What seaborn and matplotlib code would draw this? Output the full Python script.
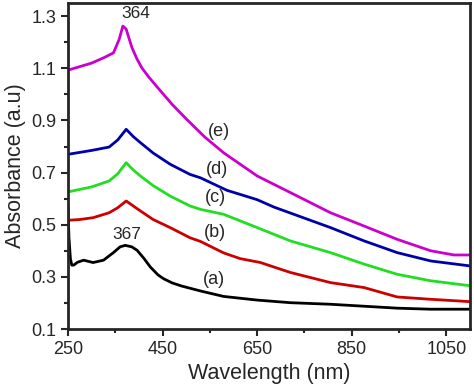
import numpy as np
import pandas as pd
import seaborn as sns
import matplotlib.pyplot as plt

# dados
wl_a = [250, 252, 255, 258, 262, 270, 283, 303, 325, 346, 360, 371, 385, 396, 410, 424, 440, 452, 470, 490, 530, 579, 650, 720, 805, 880, 946, 1017, 1100]
abs_a = [0.57, 0.45, 0.37, 0.345, 0.345, 0.356, 0.364, 0.355, 0.364, 0.393, 0.415, 0.421, 0.415, 0.402, 0.372, 0.338, 0.308, 0.293, 0.277, 0.265, 0.246, 0.225, 0.211, 0.201, 0.195, 0.187, 0.180, 0.176, 0.176]

wl_b = [250, 275, 303, 337, 355, 373, 388, 403, 430, 466, 508, 530, 579, 614, 657, 690, 720, 805, 876, 946, 1017, 1100]
abs_b = [0.517, 0.520, 0.527, 0.546, 0.565, 0.591, 0.572, 0.553, 0.520, 0.489, 0.450, 0.436, 0.392, 0.370, 0.355, 0.335, 0.317, 0.278, 0.259, 0.223, 0.214, 0.205]

wl_c = [250, 300, 337, 355, 373, 388, 403, 430, 466, 508, 530, 579, 650, 720, 805, 876, 946, 1017, 1100]
abs_c = [0.626, 0.645, 0.668, 0.695, 0.738, 0.710, 0.687, 0.650, 0.610, 0.572, 0.559, 0.540, 0.489, 0.438, 0.393, 0.349, 0.310, 0.285, 0.266]

wl_d = [250, 300, 337, 355, 373, 388, 403, 430, 466, 508, 530, 586, 650, 685, 805, 876, 946, 1017, 1100]
abs_d = [0.770, 0.785, 0.798, 0.825, 0.866, 0.838, 0.815, 0.775, 0.732, 0.693, 0.680, 0.632, 0.596, 0.568, 0.489, 0.438, 0.393, 0.361, 0.342]

wl_e = [250, 300, 325, 346, 358, 366, 373, 385, 396, 406, 420, 440, 470, 501, 540, 579, 650, 748, 805, 876, 946, 1017, 1066, 1100]
abs_e = [1.093, 1.120, 1.140, 1.159, 1.210, 1.262, 1.250, 1.180, 1.135, 1.102, 1.068, 1.025, 0.962, 0.904, 0.835, 0.776, 0.687, 0.598, 0.546, 0.495, 0.444, 0.400, 0.384, 0.384]

amostras = ['(a)', '(b)', '(c)', '(d)', '(e)']
cores = ['#000000', '#cc0000', '#22dd22', '#0000aa', '#cc00cc']

# posicoes dos rotulos (a)...(e)
rot_x = [558, 561, 561, 565, 569]
rot_y = [0.291, 0.470, 0.604, 0.713, 0.859]

# monta a tabela longa
df = pd.concat([
    pd.DataFrame({'wl': w, 'abs': a, 'amostra': n})
    for w, a, n in zip([wl_a, wl_b, wl_c, wl_d, wl_e],
                       [abs_a, abs_b, abs_c, abs_d, abs_e], amostras)
])

sns.set_style('ticks')
plt.rcParams['font.family'] = ['Liberation Sans', 'DejaVu Sans']

fig, ax = plt.subplots(figsize=(4.74, 3.88), dpi=100)
fig.subplots_adjust(left=0.1435, right=0.9916, top=0.992, bottom=0.152)

sns.lineplot(data=df, x='wl', y='abs', hue='amostra', palette=cores,
             sort=False, estimator=None, linewidth=2, legend=False, ax=ax)

# rotulos das curvas
for r, x, y in zip(amostras, rot_x, rot_y):
    ax.text(x, y, r, fontsize=13, ha='center', va='center')
ax.text(394, 1.31, '364', fontsize=12.5, ha='center', va='center')
ax.text(374, 0.463, '367', fontsize=12.5, ha='center', va='center')

ax.set_xticks([250, 450, 650, 850, 1050])
ax.set_xticks([350, 550, 750, 950], minor=True)
ax.set_yticks([0.1, 0.3, 0.5, 0.7, 0.9, 1.1, 1.3])
ax.set_yticks([0.2, 0.4, 0.6, 0.8, 1.0, 1.2], minor=True)
ax.set_xlim(250, 1100)
ax.set_ylim(0.1, 1.35)

ax.tick_params(which='major', direction='out', length=5, width=1.5, labelsize=13)
ax.tick_params(which='minor', direction='out', length=3, width=1.5)
for s in ax.spines.values():
    s.set_linewidth(2)
    s.set_visible(True)

ax.set_xlabel('Wavelength (nm)', fontsize=15.5)
ax.set_ylabel('Absorbance (a.u)', fontsize=15.5)

fig.savefig('out.png', dpi=100)
